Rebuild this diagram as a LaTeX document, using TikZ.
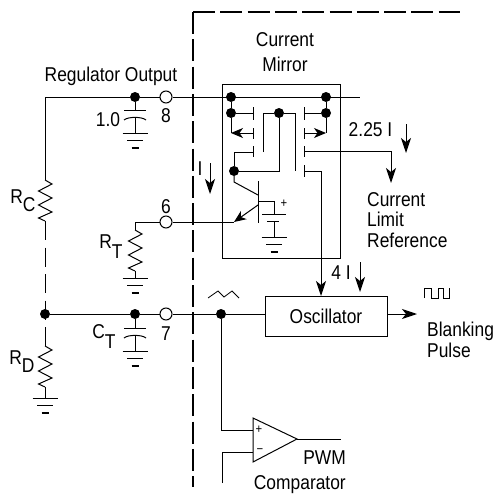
\documentclass[tikz,border=0pt]{standalone}
\usepackage{fontspec}
\setmainfont{Liberation Sans}[FakeStretch=0.87]
\usetikzlibrary{positioning, arrows.meta}

\tikzset{
  wire/.style={line width=1pt},
  thinwire/.style={line width=.8pt},
  tip/.style={-{Stealth[length=12pt,width=10pt,inset=3.5pt]}},
  longtip/.style={-{Stealth[length=15pt,width=10pt,inset=4pt]}},
  border/.style={line width=2.6pt,dash pattern=on 22pt off 5.3pt},
  gapwire/.style={wire,dash pattern=on 19pt off 7.5pt},
  dot/.style={circle,fill=black,inner sep=0pt,minimum size=10pt},
  pin/.style={circle,draw,fill=white,wire,inner sep=0pt,minimum size=12pt},
  lbl/.style={inner sep=0pt,font=\fontsize{20}{20.5}\selectfont},
  gnd/.pic={
    \draw[wire] (-12.5,0) -- (12.5,0) (-8,7.5) -- (8,7.5);
    \draw[line width=1.3pt] (-3.5,15) -- (3.5,15);
  },
  capac/.pic={
    \draw[wire] (-11,0) -- (11,0);
    \draw[wire] (-11,10) .. controls (-7,6.5) and (7,6.5) .. (11,10);
    \draw[wire] (0,7.5) -- (0,23);
    \coordinate (-top) at (0,0);
    \pic at (0,23) {gnd};
  },
  resistor/.pic={
    \draw[wire] (0,0) -- (7,4) -- (-6.5,11) -- (7,18) -- (-6.5,25) -- (7,32) -- (-6.5,38) -- (0,41);
    \coordinate (-in) at (0,0);
    \coordinate (-out) at (0,41);
  }
}

\begin{document}
\begin{tikzpicture}[x=1pt,y=-1pt,>=Stealth,on grid]
    \useasboundingbox (0,0) rectangle (493,495);

    %%% CHIP EDGE %%%
    \coordinate (corner) at (193,12);
    \coordinate (edgeright) at (460,12);
    \coordinate (edgebottom) at (193,487);
    \draw[border] (corner) -- (edgeright);
    \draw[border] (corner) -- (edgebottom);

    %%% PINS AND JUNCTIONS %%%
    \node[pin] (pin8) at (166,97) {};
    \node[pin] (pin6) at (166,222) {};
    \node[pin] (pin7) at (166,314) {};
    \node[dot] (dotreg) at (135,97) {};
    \node[dot] (dotleft) at (45,314) {};
    \node[dot] (dotct) at (135,314) {};
    \node[dot] (dotramp) at (221,314) {};

    % Mirror junctions
    \node[dot] (dotrailL) at (231,97) {};
    \node[dot] (dotrailR) at (326,97) {};
    \node[dot] (dotsrcL) at (231,113) {};
    \node[dot] (dotsrcR) at (326,113) {};
    \node[dot] (dotdrain) at (279,113) {};
    \node[dot] (dotbase) at (234,171) {};

    %%% EXTERNAL PARTS %%%
    \pic (rc) at (45,180) {resistor};
    \pic (rt) at (135,230) {resistor};
    \pic (rd) at (45,346) {resistor};
    \pic (cin) at (135,110) {capac};
    \pic (ct) at (135,328) {capac};
    \pic at (135,278) {gnd};
    \pic at (45,398) {gnd};

    \coordinate (railend) at (360,97);
    \draw[wire] (rc-in) |- (dotreg) -- (pin8) -- (railend);
    \draw[wire] (dotreg) -- (cin-top);
    \draw[gapwire] (rc-out) -- (rd-in);
    \draw[wire] (rd-out) -- ++(0,12);
    \draw[wire] (rt-out) -- ++(0,8);
    \draw[wire] (rt-in) |- (pin6);
    \draw[wire] (dotleft) -- (dotct) -- (pin7) -- (dotramp);
    \draw[wire] (dotct) -- (ct-top);

    %%% CURRENT MIRROR %%%
    \node[draw,wire,minimum width=118pt,minimum height=174pt,inner sep=0pt] (mirror) at (281,171) {};

    % Gates
    \draw[wire] (253,107) -- (253,120) (253,128) -- (253,139) (253,146) -- (253,157);
    \draw[wire] (304,107) -- (304,120) (304,128) -- (304,139) (304,146) -- (304,157) (304,165) -- (304,177);

    \coordinate (gateLa) at (253,113);
    \coordinate (gateLb) at (253,133);
    \coordinate (gateLc) at (253,152);
    \coordinate (gateRa) at (304,113);
    \coordinate (gateRb) at (304,133);
    \coordinate (gateRc) at (304,151);
    \coordinate (gateRd) at (304,171);
    \coordinate (backL) at (263,152);
    \coordinate (backR) at (295,171);
    \coordinate (srcL) at (231,133);
    \coordinate (srcR) at (326,133);

    \path[wire,draw]
    (dotrailL) -- (dotsrcL) -- (srcL)
    (dotrailR) -- (dotsrcR) -- (srcR)
    (dotsrcL) -- (gateLa)
    (dotsrcR) -- (gateRa)
    (backL) |- (dotdrain) -| (backR)
    (dotdrain) |- (dotbase)
    (dotbase) |- (gateLc);
    \draw[wire,tip] (gateLb) -- (srcL);
    \draw[wire,tip] (gateRb) -- (srcR);

    % Output transistor
    \coordinate (collector) at (234,182);
    \coordinate (colbar) at (258,195);
    \coordinate (embar) at (258,205);
    \coordinate (emitter) at (234,222);
    \coordinate (basebar) at (258,201);
    \coordinate (batplus) at (274,214);
    \coordinate (batminus) at (274,221);
    \coordinate (batgnd) at (274,237);
    \draw[wire] (258,181) -- (258,223);
    \draw[wire] (dotbase) -- (collector) -- (colbar);
    \draw[wire,tip] (embar) -- (emitter);
    \draw[wire] (pin6) -- (emitter);
    \draw[wire] (basebar) -| (batplus);
    \draw[wire] (262,214) -- (286,214) (267,221) -- (279,221);
    \draw[wire] (batminus) -- (batgnd);
    \pic at (batgnd) {gnd};
    \node[lbl,font=\fontsize{13}{14}\selectfont] (batsign) at (284,204) {+};

    %%% OSCILLATOR %%%
    \node[draw,wire,minimum width=122pt,minimum height=40pt,inner sep=0pt] (osc) at (326,316) {};
    \node[lbl] (osctext) at (osc) {Oscillator};
    \coordinate (oscin) at (321,296);
    \coordinate (oscbend) at (321,171);
    \coordinate (oscout) at (417,314);
    \coordinate (oscleft) at (265,314);
    \coordinate (oscright) at (387,314);
    \draw[wire] (dotramp) -- (oscleft);
    \draw[wire] (gateRd) -- (oscbend);
    \draw[wire,longtip] (oscbend) -- (oscin);
    \draw[wire,longtip] (oscright) -- (oscout);

    %%% LIMIT REFERENCE %%%
    \coordinate (limbend) at (391,151);
    \coordinate (limend) at (391,183);
    \draw[wire] (gateRc) -- (limbend);
    \draw[wire,longtip] (limbend) -- (limend);

    %%% CURRENT ARROWS %%%
    \coordinate (iA) at (210,163);
    \coordinate (iB) at (210,194);
    \coordinate (iC) at (406,124);
    \coordinate (iD) at (406,153);
    \coordinate (iE) at (360,262);
    \coordinate (iF) at (360,292);
    \draw[wire,longtip] (iA) -- (iB);
    \draw[wire,longtip] (iC) -- (iD);
    \draw[wire,longtip] (iE) -- (iF);

    %%% PWM COMPARATOR %%%
    \coordinate (cmptop) at (253,418);
    \coordinate (cmpbot) at (253,462);
    \coordinate (cmptip) at (297,439);
    \coordinate (cmpout) at (341,439);
    \coordinate (cmpplus) at (253,430);
    \coordinate (cmpminus) at (253,452);
    \coordinate (cmpstub) at (222,483);
    \draw[wire] (cmptop) -- (cmptip) -- (cmpbot) -- cycle;
    \draw[wire] (cmptip) -- (cmpout);
    \draw[wire] (dotramp) |- (cmpplus);
    \draw[wire] (cmpstub) |- (cmpminus);
    \node[lbl,font=\fontsize{13}{14}\selectfont] (cmpplustext) at (259,430) {+};
    \node[lbl,font=\fontsize{13}{14}\selectfont] (cmpminustext) at (260,451) {\textminus};

    %%% WAVEFORMS %%%
    \draw[thinwire] (208,298) -- (218,291) -- (224,297) -- (232,291) -- (239,298);
    \draw[thinwire] (424,298) -- (424,288) -- (431,288) -- (431,298) -- (438,298) -- (438,288) -- (443,288) -- (443,298) -- (449,298) -- (449,288);

    %%% LABELS %%%
    \node[lbl] (regtext) at (111,76) {Regulator Output};
    \node[lbl] (capone) at (108,120) {1.0};
    \node[lbl] (txt8) [below=19pt of pin8] {8};
    \node[lbl] (txt6) [above=15pt of pin6] {6};
    \node[lbl] (txt7) [below=20pt of pin7] {7};
    \node[lbl] (txtrc) at (23,201) {R\lower8pt\hbox{C}};
    \node[lbl] (txtrt) at (111,247) {R\lower10pt\hbox{T}};
    \node[lbl] (txtct) at (104,337) {C\lower10pt\hbox{T}};
    \node[lbl] (txtrd) at (22,362) {R\lower8pt\hbox{D}};
    \node[lbl,align=center] (mirrortext) at (285,52.5) {Current\\[4.5pt]Mirror};
    \node[lbl] (txtia) at (200,169) {I};
    \node[lbl] (txtib) at (370.5,130) {2.25 I};
    \node[lbl] (txtic) at (341,273) {4 I};
    \node[lbl,align=left,anchor=west] (limtext) at (367,220) {Current\\Limit\\Reference};
    \node[lbl,align=left,anchor=west] (blanktext) at (427,340) {Blanking\\Pulse};
    \node[lbl,align=right,anchor=east] (cmptext) at (346,472) {PWM\\[4.5pt]Comparator};
\end{tikzpicture}
\end{document}
